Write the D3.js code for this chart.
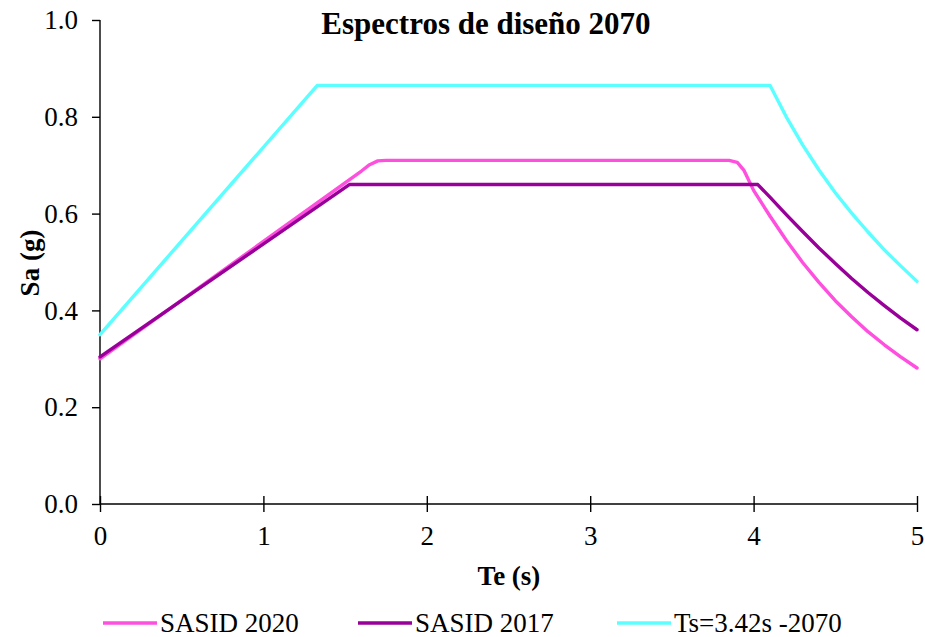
<!DOCTYPE html>
<html>
<head>
<meta charset="utf-8">
<script src="https://cdn.jsdelivr.net/npm/d3@7/dist/d3.min.js"></script>
<style>
  body { margin: 0; background: #fff; }
  svg text { font-family: "Liberation Serif", "Times New Roman", serif; fill: #000; }
</style>
</head>
<body>
<svg id="chart" width="925" height="637"></svg>
<script>
// values
var sasid2020T  = [0, 1.60, 1.65, 1.70, 1.75, 3.85, 3.90, 3.94, 4.0, 4.1, 4.2, 4.3, 4.4, 4.5, 4.6, 4.7, 4.8, 4.9, 5.0];
var sasid2020Sa = [0.300, 0.688, 0.701, 0.709, 0.710, 0.710, 0.706, 0.690, 0.648, 0.595, 0.545, 0.499, 0.458, 0.420, 0.387, 0.356, 0.329, 0.304, 0.281];

var sasid2017T  = [0, 1.526, 4.026, 4.1, 4.2, 4.3, 4.4, 4.5, 4.6, 4.7, 4.8, 4.9, 5.0];
var sasid2017Sa = [0.304, 0.660, 0.660, 0.634, 0.598, 0.563, 0.529, 0.497, 0.466, 0.437, 0.410, 0.384, 0.360];

var ts2070T  = [0, 1.33, 4.10, 4.2, 4.3, 4.4, 4.5, 4.6, 4.7, 4.8, 4.9, 5.0];
var ts2070Sa = [0.350, 0.865, 0.865, 0.800, 0.742, 0.690, 0.643, 0.601, 0.562, 0.525, 0.492, 0.460];

var seriesNames  = ["SASID 2020", "SASID 2017", "Ts=3.42s -2070"];
var seriesColors = ["#ff4fdf", "#990099", "#5cffff"];
var xTicks = [0, 1, 2, 3, 4, 5];
var yTicks = [0, 0.2, 0.4, 0.6, 0.8, 1.0];

var svg = d3.select("#chart");

var x = d3.scaleLinear().domain([0, 5]).range([100, 917]);
var y = d3.scaleLinear().domain([0, 1]).range([504, 20]);

var series = [
  {name: seriesNames[0], color: seriesColors[0], t: sasid2020T, sa: sasid2020Sa},
  {name: seriesNames[1], color: seriesColors[1], t: sasid2017T, sa: sasid2017Sa},
  {name: seriesNames[2], color: seriesColors[2], t: ts2070T, sa: ts2070Sa}
];

// axes
var yAxis = svg.append("g")
  .attr("transform", "translate(" + x(0) + ",0)")
  .call(d3.axisLeft(y).tickValues(yTicks).tickFormat(d3.format(".1f")).tickSize(8).tickPadding(14));

var xAxis = svg.append("g")
  .attr("transform", "translate(0," + y(0) + ")")
  .call(d3.axisBottom(x).tickValues(xTicks).tickFormat(d3.format("d")).tickSize(8).tickPadding(14));

svg.selectAll(".domain").attr("stroke", "#000").attr("stroke-width", 1.4);
svg.selectAll(".tick line").attr("stroke", "#000").attr("stroke-width", 1.4);
svg.selectAll(".tick text").style("font-size", "27px");
yAxis.select(".domain").attr("d", "M0," + y(1) + "V" + y(0));
// x ticks cross the axis
xAxis.selectAll(".tick line").attr("y1", -8).attr("y2", 8);
xAxis.select(".domain").attr("d", "M" + x(0) + ",0H" + x(5));

// series lines
var line = d3.line()
  .x(function(d) { return x(d[0]); })
  .y(function(d) { return y(d[1]); });

series.forEach(function(s) {
  var pts = s.t.map(function(t, i) { return [t, s.sa[i]]; });
  svg.append("path")
    .datum(pts)
    .attr("d", line)
    .attr("fill", "none")
    .attr("stroke", s.color)
    .attr("stroke-width", 3.4)
    .attr("stroke-linejoin", "round")
    .attr("stroke-linecap", "round");
});

// titles
svg.append("text")
  .attr("x", 486).attr("y", 34)
  .attr("text-anchor", "middle")
  .style("font-size", "31px").style("font-weight", "bold")
  .text("Espectros de diseño 2070");

svg.append("text")
  .attr("transform", "translate(39,263) rotate(-90)")
  .attr("text-anchor", "middle")
  .style("font-size", "27px").style("font-weight", "bold")
  .text("Sa (g)");

svg.append("text")
  .attr("x", 509).attr("y", 585)
  .attr("text-anchor", "middle")
  .style("font-size", "27px").style("font-weight", "bold")
  .text("Te (s)");

// legend
var legendX = [103, 358, 617];
var legend = svg.append("g");
series.forEach(function(s, i) {
  legend.append("line")
    .attr("x1", legendX[i]).attr("x2", legendX[i] + 54)
    .attr("y1", 623).attr("y2", 623)
    .attr("stroke", s.color).attr("stroke-width", 3.4);
  legend.append("text")
    .attr("x", legendX[i] + 57).attr("y", 632)
    .style("font-size", "27px")
    .text(s.name);
});
</script>
</body>
</html>
